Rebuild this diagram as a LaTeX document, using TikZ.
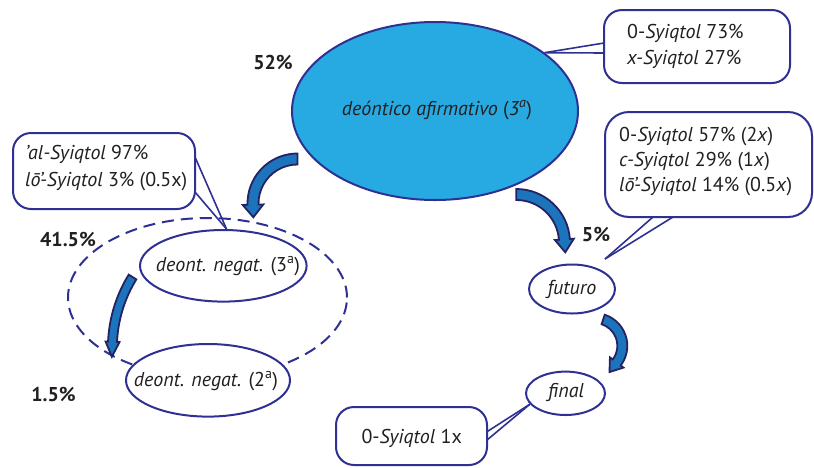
\documentclass[tikz,border=0pt]{standalone}
\usepackage{fontspec}
\setmainfont{PT Sans}
\usetikzlibrary{shapes.geometric,calc}
\definecolor{navy}{HTML}{2E3192}
\definecolor{cyanfill}{HTML}{27AAE1}
\definecolor{arrfill}{HTML}{1C75BC}
\definecolor{arrdraw}{HTML}{262262}
\definecolor{txt}{HTML}{231F20}
\newcommand\blockarr[8]{%
\pgfmathsetmacro\myRo{#3+#4/2}%
\pgfmathsetmacro\myRi{#3-#4/2}%
\pgfmathsetmacro\myHo{#3+#8}%
\pgfmathsetmacro\myHi{#3-#8}%
\pgfmathsetmacro\mySg{ifthenelse(#6>#5,1,-1)}%
\pgfmathsetmacro\myTx{#1+#3*cos(#6)-#7*(\mySg)*sin(#6)}%
\pgfmathsetmacro\myTy{#2+#3*sin(#6)+#7*(\mySg)*cos(#6)}%
\draw[blockarrow] ([shift={(#1,#2)}]#5:\myRo) arc[start angle=#5,end angle=#6,radius=\myRo]
 -- ([shift={(#1,#2)}]#6:\myHo) -- (\myTx,\myTy) -- ([shift={(#1,#2)}]#6:\myHi)
 -- ([shift={(#1,#2)}]#6:\myRi) arc[start angle=#6,end angle=#5,radius=\myRi] -- cycle;}
\tikzset{
 ell/.style={ellipse, draw=navy, line width=2pt, fill=white, inner sep=0pt},
 lbl/.style={text=txt, font=\fontsize{20}{24}\selectfont, inner sep=0pt},
 box/.style={rectangle, rounded corners=18pt, draw=navy, line width=2pt, fill=white, inner sep=0pt},
 boxtext/.style={text=txt, align=left, anchor=west, inner sep=0pt},
 pct/.style={text=txt, font=\bfseries\fontsize{20}{24}\selectfont, inner sep=0pt},
 blockarrow/.style={fill=arrfill, draw=arrdraw, line width=1.8pt, line join=miter},
 pointer/.style={draw=navy, line width=1.6pt},
 dashring/.style={ellipse, draw=navy, line width=2pt, dash pattern=on 12pt off 7pt, inner sep=0pt}
}
\begin{document}
\begin{tikzpicture}[x=1pt,y=-1pt]
\useasboundingbox (0,0) rectangle (814,467);
% dashed group ring
\node[dashring, minimum width=279pt, minimum height=159pt] (ring) at (207.5,297.5) {};
% big ellipse
\node[ell, fill=cyanfill, minimum width=286pt, minimum height=178pt] (big) at (435,111) {};
\node[lbl] (bigt) at (437,110)
  {\textit{deóntico afirmativo} (\textit{3\textsuperscript{a}})};
% pointers
\coordinate (tip2) at (605,259);
\draw[pointer] ($(big.28.5)$) -- (604,43);
\draw[pointer] ($(big.28.5)$) -- (604,53);
\draw[pointer] (tip2) -- (653,217);
\draw[pointer] (tip2) -- (673,217);
% boxes
\node[box, minimum width=186pt, minimum height=73pt] (b1) at (697,46.5) {};
\node[boxtext, font=\fontsize{20}{26}\selectfont] (t1) at (627,46)
  {0-\textit{Syiqtol} 73\%\\\textit{x-Syiqtol} 27\%};
\node[box, rounded corners=24pt, minimum width=207pt, minimum height=105pt] (b2) at (708.5,164.5) {};
\node[boxtext, font=\fontsize{20}{25}\selectfont] (t2) at (619,162)
  {0-\textit{Syiqtol} 57\% (2\textit{x})\\\textit{c-Syiqtol} 29\% (1\textit{x})\\\textit{lō’-Syiqtol} 14\% (0.5\textit{x})};
% small ellipses
\node[ell, minimum width=166.6pt, minimum height=71.6pt] (n3) at (223.3,265.8) {};
\node[lbl] (n3t) at (228,266) {\textit{deont. negat.} (3\textsuperscript{a})};
\node[ell, minimum width=164pt, minimum height=72.6pt] (n2) at (208,380.3) {};
\node[lbl] (n2t) at (206,381) {\textit{deont. negat.} (2\textsuperscript{a})};
\node[ell, minimum width=86pt, minimum height=49pt] (fut) at (572,289) {};
\node[lbl] (futt) at (572,289) {\textit{futuro}};
\node[ell, minimum width=79pt, minimum height=43.4pt] (fin) at (565.5,393.3) {};
\node[lbl] (fint) at (566,393) {\textit{final}};
% left callout
\draw[pointer] (n3.85) -- (195,157);
\draw[pointer] (n3.85) -- (195,192);
\node[box, minimum width=182pt, minimum height=76pt] (b3) at (104,171) {};
\node[boxtext, font=\fontsize{20}{26.5}\selectfont] (t3) at (25,168)
  {\textit{’al-Syiqtol} 97\%\\\textit{lō’-Syiqtol} 3\% (0.5x)};
% bottom callout
\draw[pointer] (fin.197) -- (487,431.7);
\draw[pointer] (fin.197) -- (487,440);
\node[box, minimum width=151pt, minimum height=58pt] (b4) at (411.5,436) {};
\node[lbl] (t4) at (411.7,438) {0-\textit{Syiqtol} 1x};
% block arrows
\blockarr{297.5}{203.5}{44.5}{11}{-90}{-181.5}{12.6}{10.3}
\blockarr{516.3}{242.7}{48.2}{11}{-90}{-4}{13}{9.5}
\blockarr{247.3}{347.9}{134.9}{9}{-148.3}{-177.4}{15}{7}
\blockarr{594.6}{345.8}{27.7}{10}{-72}{37}{12}{8.5}
% percentages
\node[pct] (p52) at (273,62) {52\%};
\node[pct] (p415) at (68,239) {41.5\%};
\node[pct] (p15) at (53.5,394.5) {1.5\%};
\node[pct] (p5) at (596,234) {5\%};
\end{tikzpicture}
\end{document}
